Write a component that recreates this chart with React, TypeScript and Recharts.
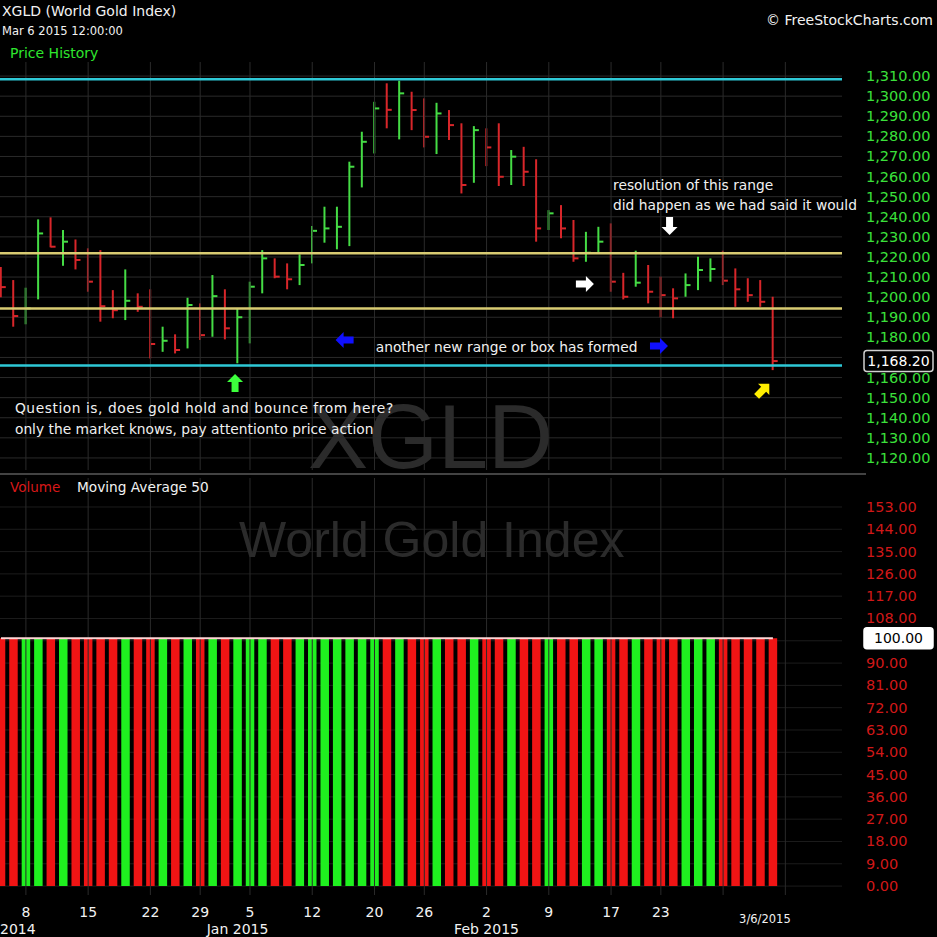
import React from "react";
import {
  ComposedChart,
  Bar,
  Line,
  XAxis,
  YAxis,
  CartesianGrid,
  ReferenceLine,
  ReferenceDot,
  Cell,
} from "recharts";

// ---------------- data ----------------
// Daily bars, Dec 4 2014 .. Mar 6 2015 (index 0..62)
const HIGH = [
  1215.0, 1208.5, 1204.7, 1238.7, 1239.7, 1233.4, 1228.7, 1224.3, 1223.4, 1203.5,
  1213.8, 1201.9, 1203.9, 1185.3, 1181.5, 1199.7, 1196.9, 1211.0, 1203.9, 1194.4,
  1207.7, 1223.4, 1219.3, 1216.8, 1221.3, 1235.4, 1245.0, 1245.0, 1267.4, 1282.3,
  1297.2, 1306.4, 1307.7, 1302.2, 1298.9, 1296.7, 1293.1, 1286.5, 1285.1, 1284.0,
  1286.5, 1273.2, 1274.8, 1268.6, 1243.3, 1245.8, 1238.4, 1232.5, 1235.0, 1236.7,
  1212.1, 1223.1, 1216.0, 1210.2, 1204.4, 1211.8, 1220.1, 1219.3, 1223.1, 1214.3,
  1209.4, 1208.5, 1200.2,
];
const LOW = [
  1200.0, 1185.3, 1186.5, 1198.9, 1224.8, 1215.6, 1213.8, 1202.7, 1187.8, 1189.5,
  1188.6, 1192.7, 1169.5, 1172.8, 1172.0, 1174.5, 1178.7, 1180.3, 1179.0, 1167.1,
  1177.0, 1201.9, 1209.4, 1203.9, 1206.0, 1216.8, 1227.1, 1223.8, 1225.4, 1254.6,
  1271.5, 1284.0, 1278.5, 1283.1, 1274.5, 1271.2, 1278.2, 1251.6, 1256.9, 1265.2,
  1255.3, 1255.8, 1255.3, 1227.6, 1233.4, 1229.3, 1217.6, 1217.6, 1221.8, 1202.7,
  1198.9, 1205.2, 1196.9, 1190.0, 1189.5, 1200.2, 1203.5, 1207.7, 1206.0, 1195.2,
  1197.7, 1195.2, 1163.7,
];
const CLOSE = [
  1205.0, 1190.6, 1194.4, 1231.7, 1225.1, 1227.6, 1218.5, 1207.7, 1195.5, 1193.5,
  1198.2, 1195.2, 1176.7, 1178.3, 1173.7, 1196.1, 1181.1, 1200.5, 1184.5, 1190.0,
  1205.2, 1219.3, 1210.2, 1208.9, 1216.0, 1233.0, 1234.2, 1235.0, 1264.9, 1277.3,
  1293.9, 1293.2, 1301.4, 1293.1, 1279.8, 1291.4, 1285.6, 1255.8, 1283.1, 1274.5,
  1259.9, 1269.9, 1262.4, 1234.2, 1241.7, 1234.2, 1219.3, 1222.1, 1227.6, 1207.7,
  1200.2, 1207.2, 1202.7, 1201.0, 1199.4, 1206.0, 1213.5, 1214.0, 1208.2, 1203.9,
  1201.0, 1197.7, 1168.2,
];
const PRIOR_CLOSE = 1210.0;
const VOLUME = [
  100, 100, 100, 100, 100, 100, 100, 100, 100, 100, 100, 100, 100, 100, 100, 100,
  100, 100, 100, 100, 100, 100, 100, 100, 100, 100, 100, 100, 100, 100, 100, 100,
  100, 100, 100, 100, 100, 100, 100, 100, 100, 100, 100, 100, 100, 100, 100, 100,
  100, 100, 100, 100, 100, 100, 100, 100, 100, 100, 100, 100, 100, 100, 100,
];
const VOLUME_MA50 = [
  100, 100, 100, 100, 100, 100, 100, 100, 100, 100, 100, 100, 100, 100, 100, 100,
  100, 100, 100, 100, 100, 100, 100, 100, 100, 100, 100, 100, 100, 100, 100, 100,
  100, 100, 100, 100, 100, 100, 100, 100, 100, 100, 100, 100, 100, 100, 100, 100,
  100, 100, 100, 100, 100, 100, 100, 100, 100, 100, 100, 100, 100, 100, 100,
];

const GRID_TICKS = [2, 7, 12, 16, 20, 25, 30, 34, 39, 44, 49, 53, 58, 63];
const DAY_TICKS = [2, 7, 12, 16, 20, 25, 30, 34, 39, 44, 49, 53];
const DAY_LABELS = ["8", "15", "22", "29", "5", "12", "20", "26", "2", "9", "17", "23"];
const MONTH_TICKS = [2, 19, 39];
const MONTH_LABELS = ["2014", "Jan 2015", "Feb 2015"];
const LAST_TICK = 62;
const LAST_LABEL = "3/6/2015";

const PRICE_TICKS = [
  1120, 1130, 1140, 1150, 1160, 1170, 1180, 1190, 1200, 1210, 1220, 1230, 1240,
  1250, 1260, 1270, 1280, 1290, 1300, 1310,
];
const VOLUME_TICKS = [0, 9, 18, 27, 36, 45, 54, 63, 72, 81, 90, 99, 108, 117, 126, 135, 144, 153];

const OUTER_RANGE = [1166.0, 1308.4];
const INNER_RANGE = [1194.4, 1221.8];
const LAST_PRICE = 1168.2;
const LAST_VOLUME = 100;

// ---------------- styling ----------------
const FONT = "'DejaVu Sans', Verdana, sans-serif";
const X_DOMAIN: [number, number] = [-0.08, 67.55];
const PRICE_DOMAIN: [number, number] = [1114, 1317];
const VOLUME_DOMAIN: [number, number] = [-3.6, 164.7];
const UP_BAR = "#45dc45";
const DOWN_BAR = "#d8262a";
const UP_VOL = "#1ff01f";
const DOWN_VOL = "#f01414";
const GRID = "#2a2a2a";
const CYAN = "#2ec8d6";
const YELLOW = "#d8cb72";

const ALL_X_TICKS = Array.from(new Set([...DAY_TICKS, ...MONTH_TICKS, LAST_TICK])).sort((a, b) => a - b);

const data = HIGH.map((h, i) => ({
  i,
  hl: [LOW[i], h],
  high: h,
  low: LOW[i],
  close: CLOSE[i],
  up: CLOSE[i] > (i === 0 ? PRIOR_CLOSE : CLOSE[i - 1]),
  vol: VOLUME[i],
  ma: VOLUME_MA50[i],
}));

// ---------------- shapes ----------------
const HLCShape = (props: any) => {
  const { x, y, width, height, payload } = props;
  if (x == null || y == null || !payload) return null;
  const cx = x + width / 2;
  const top = Math.min(y, y + height);
  const bot = Math.max(y, y + height);
  const span = payload.high - payload.low || 1;
  const yc = top + ((payload.high - payload.close) / span) * (bot - top);
  const c = payload.up ? UP_BAR : DOWN_BAR;
  return (
    <g>
      <line x1={cx} x2={cx} y1={top} y2={bot} stroke={c} strokeWidth={2} />
      <line x1={cx} x2={cx + 5} y1={yc} y2={yc} stroke={c} strokeWidth={2} />
    </g>
  );
};

const fmtPrice = (v: number) =>
  v.toLocaleString("en-US", { minimumFractionDigits: 2, maximumFractionDigits: 2 });

const Box = ({ x, y, text, fill, color, border }: any) => (
  <g>
    <rect x={x + 22} y={y - 10.5} width={69} height={21} rx={3} fill={fill} stroke={border} strokeWidth={1.5} />
    <text x={x + 56.5} y={y + 5} fill={color} fontSize={14} fontFamily={FONT} textAnchor="middle">
      {text}
    </text>
  </g>
);

const PriceTick = (props: any) => {
  const { x, y, payload } = props;
  const v = payload.value;
  if (v === LAST_PRICE) {
    return <Box x={x} y={y} text={fmtPrice(v)} fill="#000" color="#fff" border="#d0d0d0" />;
  }
  if (Math.abs(v - LAST_PRICE) < 5) return null;
  return (
    <text x={x + 24} y={y + 5} fill="#3be03b" fontSize={14.5} fontFamily={FONT} textAnchor="start">
      {fmtPrice(v)}
    </text>
  );
};

const VolumeTick = (props: any) => {
  const { x, y, payload } = props;
  const v = payload.value;
  if (v === LAST_VOLUME) {
    return <Box x={x} y={y} text={v.toFixed(2)} fill="#ffffff" color="#000" border="#ffffff" />;
  }
  if (Math.abs(v - LAST_VOLUME) < 4) return null;
  return (
    <text x={x + 24} y={y + 5} fill="#d01818" fontSize={14.5} fontFamily={FONT} textAnchor="start">
      {v.toFixed(2)}
    </text>
  );
};

const DateTick = (props: any) => {
  const { x, y, payload } = props;
  const v = payload.value;
  const di = DAY_TICKS.indexOf(v);
  const mi = MONTH_TICKS.indexOf(v);
  return (
    <g>
      {di >= 0 && (
        <text x={x} y={y + 22} fill="#f2f2f2" fontSize={14} fontFamily={FONT} textAnchor="middle">
          {DAY_LABELS[di]}
        </text>
      )}
      {mi >= 0 && (
        <text
          x={mi === 0 ? 0 : x}
          y={y + 39}
          fill="#f2f2f2"
          fontSize={14}
          fontFamily={FONT}
          textAnchor={mi === 0 ? "start" : "middle"}
        >
          {MONTH_LABELS[mi]}
        </text>
      )}
      {v === LAST_TICK && (
        <text x={x - 8} y={y + 28} fill="#f2f2f2" fontSize={11.5} fontFamily={FONT} textAnchor="middle">
          {LAST_LABEL}
        </text>
      )}
    </g>
  );
};

const arrow = (color: string, angle: number) => (p: any) => {
  const { cx, cy } = p;
  if (cx == null) return null;
  const pts = "9,0 1,-8 1,-3.5 -9,-3.5 -9,3.5 1,3.5 1,8";
  return (
    <polygon
      points={pts}
      fill={color}
      transform={`translate(${cx},${cy}) rotate(${angle})`}
    />
  );
};

const txt = (s: string, size = 13.8, spacing = 0) => (p: any) => {
  const { cx, cy } = p;
  if (cx == null) return null;
  return (
    <text x={cx} y={cy} fill="#f0f0f0" fontSize={size} fontFamily={FONT} letterSpacing={spacing}>
      {s}
    </text>
  );
};

const watermark = (s: string, size: number) => (p: any) => {
  const { cx, cy } = p;
  if (cx == null) return null;
  return (
    <text x={cx} y={cy} fill="#2b2b2b" fontSize={size} fontFamily="'Liberation Sans', Arial, sans-serif" textAnchor="middle">
      {s}
    </text>
  );
};

// ---------------- component ----------------
export default function App() {
  return (
    <div
      style={{
        position: "absolute",
        left: 0,
        top: 0,
        width: 937,
        height: 937,
        background: "#000",
        overflow: "hidden",
      }}
    >
      {/* Price pane */}
      <div style={{ position: "absolute", left: 0, top: 0 }}>
        <ComposedChart width={937} height={494} data={data} margin={{ top: 62, right: 0, bottom: 24, left: 0 }}>
          <CartesianGrid vertical={false} stroke={GRID} horizontalValues={PRICE_TICKS} />
          <XAxis dataKey="i" type="number" domain={X_DOMAIN} hide allowDataOverflow />
          <YAxis
            orientation="right"
            width={95}
            domain={PRICE_DOMAIN}
            ticks={[...PRICE_TICKS, LAST_PRICE]}
            allowDataOverflow
            axisLine={false}
            tickLine={false}
            tickSize={0}
            tickMargin={0}
            interval={0}
            tick={<PriceTick />}
          />
          {GRID_TICKS.map((t) => (
            <ReferenceLine key={"g" + t} x={t} stroke={GRID} />
          ))}
          <ReferenceDot x={34.5} y={1115} r={0} ifOverflow="visible" shape={watermark("XGLD", 90)} />
          <ReferenceLine y={OUTER_RANGE[1]} stroke={CYAN} strokeWidth={2.5} />
          <ReferenceLine y={OUTER_RANGE[0]} stroke={CYAN} strokeWidth={2.5} />
          <ReferenceLine y={INNER_RANGE[1]} stroke={YELLOW} strokeWidth={2.5} />
          <ReferenceLine y={INNER_RANGE[0]} stroke={YELLOW} strokeWidth={2.5} />
          <Bar dataKey="hl" barSize={4} shape={HLCShape} isAnimationActive={false} />
          {/* annotations */}
          <ReferenceDot x={18.8} y={1157.3} r={0} ifOverflow="visible" shape={arrow("#3cff3c", -90)} />
          <ReferenceDot x={27.6} y={1178.7} r={0} ifOverflow="visible" shape={arrow("#1010ff", 180)} />
          <ReferenceDot x={52.85} y={1175.7} r={0} ifOverflow="visible" shape={arrow("#1010ff", 0)} />
          <ReferenceDot x={46.9} y={1206.5} r={0} ifOverflow="visible" shape={arrow("#ffffff", 0)} />
          <ReferenceDot x={53.7} y={1235.4} r={0} ifOverflow="visible" shape={arrow("#ffffff", 90)} />
          <ReferenceDot x={61.2} y={1153.8} r={0} ifOverflow="visible" shape={arrow("#ffee00", -45)} />
          <ReferenceDot x={49.16} y={1253.3} r={0} ifOverflow="visible" shape={txt("resolution of this range")} />
          <ReferenceDot x={49.16} y={1243.3} r={0} ifOverflow="visible" shape={txt("did happen as we had said it would")} />
          <ReferenceDot x={30.1} y={1172.7} r={0} ifOverflow="visible" shape={txt("another new range or box has formed")} />
          <ReferenceDot x={1.12} y={1142.3} r={0} ifOverflow="visible" shape={txt("Question is, does gold hold and bounce from here?", 13.8, 0.55)} />
          <ReferenceDot x={1.12} y={1131.9} r={0} ifOverflow="visible" shape={txt("only the market knows, pay attentionto price action")} />
        </ComposedChart>
      </div>

      {/* Volume pane */}
      <div style={{ position: "absolute", left: 0, top: 475 }}>
        <ComposedChart width={937} height={462} data={data} margin={{ top: 3, right: 0, bottom: 0, left: 0 }}>
          <CartesianGrid vertical={false} stroke="#1c1c1c" horizontalValues={VOLUME_TICKS} />
          <XAxis
            dataKey="i"
            type="number"
            domain={X_DOMAIN}
            ticks={ALL_X_TICKS}
            interval={0}
            height={42}
            allowDataOverflow
            axisLine={false}
            tickLine={false}
            tickSize={0}
            tickMargin={0}
            tick={<DateTick />}
          />
          <YAxis
            orientation="right"
            width={95}
            domain={VOLUME_DOMAIN}
            ticks={[...VOLUME_TICKS, LAST_VOLUME]}
            allowDataOverflow
            axisLine={false}
            tickLine={false}
            tickSize={0}
            tickMargin={0}
            interval={0}
            tick={<VolumeTick />}
          />
          {GRID_TICKS.map((t) => (
            <ReferenceLine key={"v" + t} x={t} stroke={GRID} />
          ))}
          <ReferenceDot x={34.6} y={132.8} r={0} ifOverflow="visible" shape={watermark("World Gold Index", 50)} />
          <Bar dataKey="vol" barSize={8.5} isAnimationActive={false}>
            {data.map((d) => (
              <Cell key={d.i} fill={d.up ? UP_VOL : DOWN_VOL} />
            ))}
          </Bar>
          <Line dataKey="ma" stroke="#ffd6d6" strokeWidth={2} dot={false} isAnimationActive={false} />
        </ComposedChart>
      </div>

      {/* Headers */}
      <svg width={937} height={937} style={{ position: "absolute", left: 0, top: 0, pointerEvents: "none" }}>
        <text x={2} y={16} fill="#f2f2f2" fontSize={14} fontFamily={FONT}>
          XGLD (World Gold Index)
        </text>
        <text x={2} y={35} fill="#f2f2f2" fontSize={11.5} fontFamily={FONT}>
          Mar 6 2015 12:00:00
        </text>
        <text x={10} y={58} fill="#2ee62e" fontSize={14} fontFamily={FONT}>
          Price History
        </text>
        <text x={933} y={25} fill="#f2f2f2" fontSize={14} fontFamily={FONT} textAnchor="end">
          © FreeStockCharts.com
        </text>
        <line x1={0} x2={866} y1={474} y2={474} stroke="#5a5a5a" strokeWidth={1.5} />
        <text x={10} y={492} fill="#d81818" fontSize={13.5} fontFamily={FONT}>
          Volume
        </text>
        <text x={77} y={492} fill="#f2f2f2" fontSize={13.7} fontFamily={FONT}>
          Moving Average 50
        </text>
      </svg>
    </div>
  );
}
